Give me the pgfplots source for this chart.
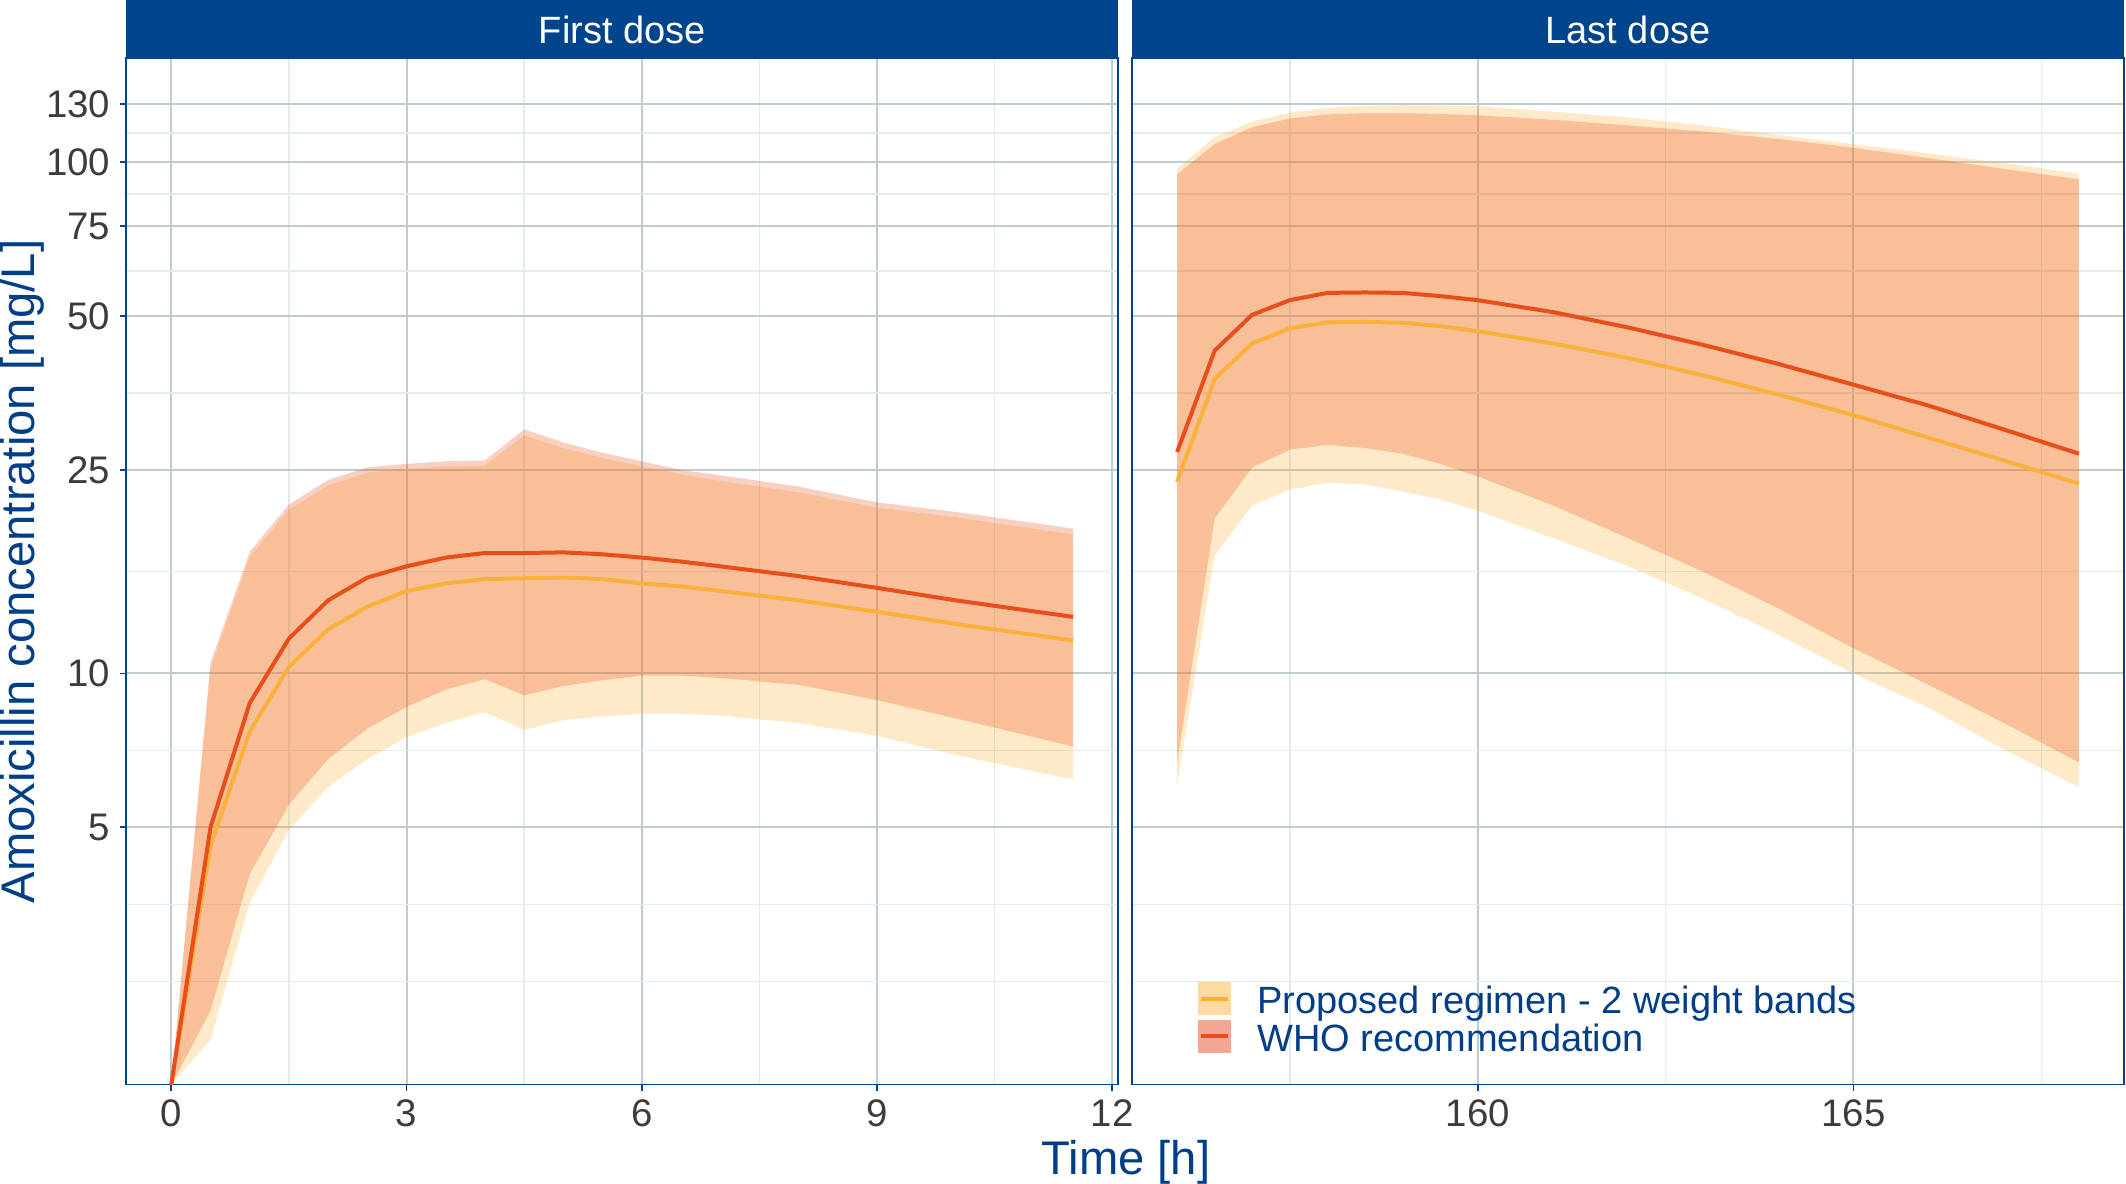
\documentclass[border=0pt]{standalone}
\usepackage{fontspec}
\setmainfont{Liberation Sans}
\usepackage{pgfplots}
\pgfplotsset{compat=1.18}
\usepackage{pgfplotstable}

\definecolor{stripblue}{RGB}{0,68,140}
\definecolor{titleblue}{RGB}{0,62,136}
\definecolor{gridmajor}{RGB}{190,203,207}
\definecolor{gridminor}{RGB}{226,236,238}
\definecolor{redline}{RGB}{232,78,27}
\definecolor{yelline}{RGB}{251,176,60}
\definecolor{keyP}{RGB}{254,218,160}
\definecolor{keyW}{RGB}{243,166,147}
\definecolor{tickgray}{RGB}{60,60,60}

% medians, first dose
\pgfplotstableread{
t    pmed   wmed
0    1.57   1.57
0.5  4.6    5.0
1    7.7    8.75
1.5  10.3   11.7
2    12.2   13.9
2.5  13.5   15.4
3    14.5   16.2
3.5  15.0   16.85
4    15.3   17.2
4.5  15.35  17.2
5    15.4   17.25
5.5  15.3   17.1
6    15.0   16.85
6.5  14.8   16.55
7    14.5   16.2
8    13.9   15.5
9    13.2   14.7
10   12.5   13.9
11.5 11.6   12.9
}\firstmed

% prediction band, proposed regimen, first dose (upper edge, then lower edge backwards)
\pgfplotstableread{
t    c
0    1.57
0.5  10.2
1    16.9
1.5  20.9
2    23.3
2.5  24.7
3    25.1
3.5  25.4
4    25.5
4.5  29.2
5    27.6
5.5  26.4
6    25.4
6.5  24.5
7    23.8
8    22.6
9    21.1
10   20.2
11.5 18.7
11.5 6.2
10   6.93
9    7.55
8    8.0
7    8.27
6.5  8.34
6    8.34
5.5  8.24
5    8.1
4.5  7.76
4    8.4
3.5  8.0
3    7.5
2.5  6.8
2    6.0
1.5  4.94
1    3.56
0.5  1.92
0    1.57
}\firstP

% prediction band, WHO, first dose
\pgfplotstableread{
t    c
0    1.57
0.5  10.5
1    17.3
1.5  21.4
2    23.9
2.5  25.3
3    25.7
3.5  26.0
4    26.1
4.5  30.0
5    28.3
5.5  27.0
6    26.0
6.5  25.0
7    24.4
8    23.2
9    21.6
10   20.7
11.5 19.2
11.5 7.2
10   8.17
9    8.87
8    9.5
7    9.8
6.5  9.9
6    9.9
5.5  9.7
5    9.45
4.5  9.06
4    9.75
3.5  9.3
3    8.6
2.5  7.8
2    6.8
1.5  5.54
1    4.05
0.5  2.19
0    1.57
}\firstW

% medians, last dose
\pgfplotstableread{
t     pmed   wmed
156   23.7   27.1
156.5 37.7   42.8
157   44.2   50.3
157.5 47.3   53.7
158   48.6   55.5
158.5 48.7   55.6
159   48.5   55.5
159.5 47.8   54.7
160   46.7   53.7
161   44.2   50.9
162   41.4   47.5
163   38.3   43.9
164   35.1   40.3
165   32.0   36.7
166   28.9   33.4
167   26.1   30.0
168   23.5   26.9
}\lastmed

\pgfplotstableread{
t     c
156   97
156.5 112
157   120
157.5 125
158   127.7
158.5 128.8
159   129.2
159.5 129
160   128.6
161   125.5
162   122.3
163   118
164   113
165   108.5
166   104
167   99.6
168   95
168   6.0
167   7.1
166   8.56
165   10.0
164   11.9
163   14.0
162   16.2
161   18.4
160   20.8
159.5 21.9
159   22.7
158.5 23.4
158   23.6
157.5 22.9
157   21.3
156.5 17.0
156   6.05
}\lastP

\pgfplotstableread{
t     c
156   94.6
156.5 108.5
157   117
157.5 121.7
158   124
158.5 124.6
159   124.6
159.5 124.2
160   123.5
161   121
162   118
163   114.8
164   111
165   106.7
166   101.8
167   97
168   92.5
168   6.7
167   8.0
166   9.5
165   11.2
164   13.4
163   15.8
162   18.4
161   21.3
160   24.3
159.5 25.7
159   26.9
158.5 27.6
158   28.0
157.5 27.4
157   25.3
156.5 20.1
156   6.7
}\lastW

\begin{document}
\begin{tikzpicture}
\useasboundingbox (0,0) rectangle (531.5pt,296pt);

\begin{axis}[at={(31.55pt,24.85pt)}, anchor=south west,
  scale only axis, width=248pt, height=256.6pt,
  ymode=log, ymin=1.57, ymax=159.7,
  ytick={5,10,25,50,75,100,130},
  yticklabels={5,10,25,50,75,100,130},
  minor ytick={2.5,3.536,7.071,15.81,35.36,61.24,86.60,114.0},
  xmin=-0.575, xmax=12.075,
  xtick={0,3,6,9,12}, xticklabels={0,3,6,9,12},
  minor xtick={1.5,4.5,7.5,10.5},
  grid=both,
  major grid style={gridmajor, line width=0.5pt},
  minor grid style={gridminor, line width=0.35pt},
  axis line style={stripblue, line width=0.45pt},
  tick align=outside, major tick length=1.5pt, minor tick length=0pt,
  tick pos=left,
  tick style={stripblue, line width=0.45pt},
  tick label style={font=\fontsize{9.6}{11}\selectfont, text=tickgray, inner sep=0pt},
  xticklabel style={yshift=-2.1pt},
  yticklabel style={xshift=-2.3pt}]
  \addplot[fill=yelline, fill opacity=0.28, draw=none, forget plot] table[x=t,y=c]{\firstP};
  \addplot[fill=redline, fill opacity=0.27, draw=none, forget plot] table[x=t,y=c]{\firstW};
  \addplot[yelline, line width=1pt, forget plot] table[x=t,y=pmed]{\firstmed};
  \addplot[redline, line width=1pt, forget plot] table[x=t,y=wmed]{\firstmed};
\end{axis}

\begin{axis}[at={(283pt,24.85pt)}, anchor=south west,
  scale only axis, width=248pt, height=256.6pt,
  ymode=log, ymin=1.57, ymax=159.7,
  ytick={5,10,25,50,75,100,130},
  yticklabels={},
  minor ytick={2.5,3.536,7.071,15.81,35.36,61.24,86.60,114.0},
  xmin=155.4, xmax=168.6,
  xtick={160,165}, xticklabels={160,165},
  minor xtick={157.5,162.5,167.5},
  grid=both,
  major grid style={gridmajor, line width=0.5pt},
  minor grid style={gridminor, line width=0.35pt},
  axis line style={stripblue, line width=0.45pt},
  tick align=outside, major tick length=1.5pt, minor tick length=0pt,
  tick pos=left,
  xtick style={stripblue, line width=0.45pt},
  ytick style={draw=none},
  tick label style={font=\fontsize{9.6}{11}\selectfont, text=tickgray, inner sep=0pt},
  xticklabel style={yshift=-2.1pt},
  legend style={at={(0.0663,0.027)}, anchor=south west, draw=none, fill=none,
    inner sep=0pt, outer sep=0pt, row sep=0pt,
    font=\fontsize{9.5}{11}\selectfont, text=titleblue,
    nodes={inner sep=0pt, text height=7.0pt, text depth=1.45pt},
    /tikz/every odd column/.style={column sep=6.6pt}},
  legend cell align=left]
  \addplot[fill=yelline, fill opacity=0.28, draw=none, forget plot] table[x=t,y=c]{\lastP};
  \addplot[fill=redline, fill opacity=0.27, draw=none, forget plot] table[x=t,y=c]{\lastW};
  \addplot[yelline, line width=1pt, forget plot] table[x=t,y=pmed]{\lastmed};
  \addplot[redline, line width=1pt, forget plot] table[x=t,y=wmed]{\lastmed};
  \addlegendimage{legend image code/.code={
      \fill[keyP] (0pt,-3pt) rectangle (7.85pt,4.9pt);
      \draw[yelline, line width=0.85pt] (0.6pt,0.95pt) -- (7.25pt,0.95pt);}}
  \addlegendentry{Proposed regimen - 2 weight bands}
  \addlegendimage{legend image code/.code={
      \fill[keyW] (0pt,-3pt) rectangle (7.85pt,4.9pt);
      \draw[redline, line width=0.85pt] (0.6pt,0.95pt) -- (7.25pt,0.95pt);}}
  \addlegendentry{WHO recommendation}
\end{axis}

% facet strips
\fill[stripblue] (31.55pt,281.45pt) rectangle (279.55pt,296pt);
\fill[stripblue] (283pt,281.45pt) rectangle (531pt,296pt);
\node[anchor=base, text=white, inner sep=0pt, font=\fontsize{9.5}{11}\selectfont] at (155.55pt,285.1pt) {First dose};
\node[anchor=base, text=white, inner sep=0pt, font=\fontsize{9.5}{11}\selectfont] at (407pt,285.1pt) {Last dose};

% axis titles
\node[anchor=base, inner sep=0pt, text=titleblue, font=\fontsize{11.8}{14}\selectfont] at (281.5pt,2.25pt) {Time [h]};
\node[anchor=base, rotate=90, inner sep=0pt, text=titleblue, font=\fontsize{11.8}{14}\selectfont] at (8.6pt,153.15pt) {Amoxicillin concentration [mg/L]};
\end{tikzpicture}
\end{document}
